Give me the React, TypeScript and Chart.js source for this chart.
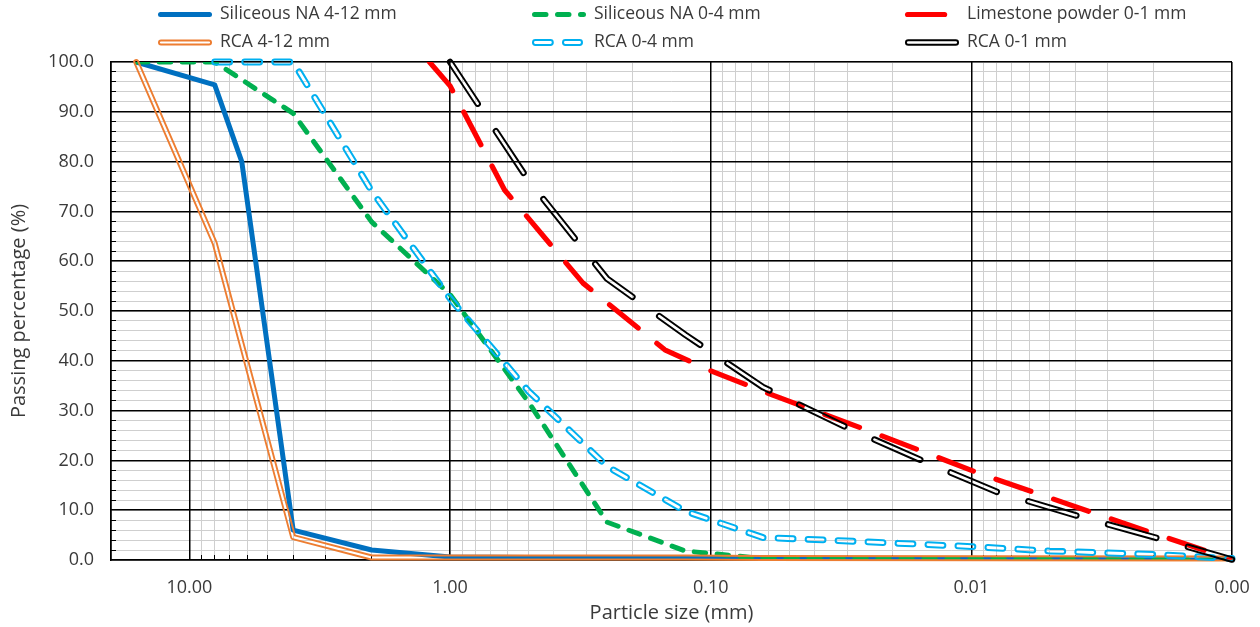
import React, { useEffect, useRef } from 'react';
import { Chart, registerables } from 'chart.js';

Chart.register(...registerables);

// ---------- data (particle size in mm, passing in %) ----------
const siliceousNA412Sizes = [16, 8, 6.3, 4, 2, 1, 0.5, 0.25, 0.125, 0.063, 0.001];
const siliceousNA412Passing = [100, 95.4, 80.0, 6.0, 2.0, 0.6, 0.5, 0.4, 0.4, 0.3, 0.0];

const siliceousNA04Sizes = [16, 8, 4, 2, 1, 0.5, 0.25, 0.125, 0.063, 0.001];
const siliceousNA04Passing = [100, 100, 89.7, 67.9, 53.3, 31.7, 7.6, 1.8, 0.3, 0.0];

const limestoneSizes = [1.2, 1.0, 0.618, 0.309, 0.15, 0.1, 0.0578, 0.0252, 0.00901, 0.00321, 0.00161, 0.001];
const limestonePassing = [100, 95.2, 74.3, 55.6, 42.2, 38.0, 33.1, 26.1, 17.1, 9.0, 3.7, 0.1];

const rca412Sizes = [16, 8, 4, 2, 1, 0.5, 0.25, 0.125, 0.063, 0.001];
const rca412Passing = [100, 63.6, 4.6, 0.5, 0.5, 0.5, 0.5, 0.5, 0.4, 0.3];

const rca04Sizes = [8, 4, 2, 1, 0.5, 0.25, 0.125, 0.063, 0.036, 0.01, 0.005, 0.002, 0.001];
const rca04Passing = [100, 100, 74.1, 52.5, 33.9, 18.8, 9.8, 4.5, 4.0, 2.7, 1.8, 1.1, 0.3];

const rca01Sizes = [1, 0.5, 0.25, 0.125, 0.063, 0.0306, 0.0158, 0.008, 0.004, 0.002, 0.001];
const rca01Passing = [100, 76.2, 56.5, 45.2, 34.7, 26.8, 20.2, 13.7, 9.0, 4.6, 0.1];

// axis ticks
const xDecadeTicks = [10, 1, 0.1, 0.01, 0.001];
const xMin = 0.001;
const xMax = 20;
const yTickLabels = [0, 10, 20, 30, 40, 50, 60, 70, 80, 90, 100];
const yMinorStep = 2;

// ---------- styles ----------
type Series = {
  label: string;
  sizes: number[];
  passing: number[];
  color: string;
  width: number;
  dash: number[];
  inner: number;
  order: number;
  legendLen: number;
};

const series: Series[] = [
  { label: 'Siliceous NA 4-12 mm', sizes: siliceousNA412Sizes, passing: siliceousNA412Passing, color: '#0070C0', width: 5, dash: [], inner: 0, order: 60, legendLen: 54 },
  { label: 'Siliceous NA 0-4 mm', sizes: siliceousNA04Sizes, passing: siliceousNA04Passing, color: '#00B050', width: 5, dash: [11.5, 11.5], inner: 0, order: 50, legendLen: 54 },
  { label: 'Limestone powder 0-1 mm', sizes: limestoneSizes, passing: limestonePassing, color: '#FF0000', width: 5.2, dash: [37, 24], inner: 0, order: 40, legendLen: 54 },
  { label: 'RCA 4-12 mm', sizes: rca412Sizes, passing: rca412Passing, color: '#ED7D31', width: 6, dash: [], inner: 2.2, order: 30, legendLen: 54 },
  { label: 'RCA 0-4 mm', sizes: rca04Sizes, passing: rca04Passing, color: '#00B0F0', width: 6.8, dash: [15, 15], inner: 2.8, order: 20, legendLen: 51 },
  { label: 'RCA 0-1 mm', sizes: rca01Sizes, passing: rca01Passing, color: '#000000', width: 6.5, dash: [50, 33], inner: 2.6, order: 10, legendLen: 54 },
];

const legendColX = [158, 532, 905];
const legendTextX = [220, 594, 967];
const legendRowY = [14.5, 42.5];

const FONT = '"Open Sans", "Noto Sans", sans-serif';
const TEXT_COLOR = '#3a3a3a';
const MINOR_GRID = '#cfcfcf';
const MAJOR_W = 1.5;

function isDecade(v: number) {
  const l = Math.log10(v);
  return Math.abs(l - Math.round(l)) < 1e-6;
}

function buildXTicks(): number[] {
  const out: number[] = [];
  for (const d of [0.001, 0.01, 0.1, 1]) {
    for (let k = 1; k <= 9; k++) out.push(Number((d * k).toPrecision(6)));
  }
  out.push(10, xMax);
  return out;
}
const xAllTicks = buildXTicks();

function alignPixel(chart: any, pixel: number, width: number) {
  const dpr = chart.currentDevicePixelRatio || 1;
  const half = Math.max(width / 2, 0.5);
  return Math.round((pixel - half) * dpr) / dpr + half;
}

// ---------- plugins ----------
const doubleLinePlugin = {
  id: 'doubleLine',
  beforeDatasetDraw(chart: any, args: any) {
    const ds = chart.data.datasets[args.index];
    if (ds._innerOf !== undefined) return false;
    if (ds._innerIndex === undefined) return;
    const innerMeta = chart.getDatasetMeta(ds._innerIndex);
    const off = document.createElement('canvas');
    off.width = chart.canvas.width;
    off.height = chart.canvas.height;
    const octx = off.getContext('2d') as CanvasRenderingContext2D;
    const dpr = chart.currentDevicePixelRatio || 1;
    octx.setTransform(dpr, 0, 0, dpr, 0, 0);
    args.meta.dataset.draw(octx, chart.chartArea);
    octx.globalCompositeOperation = 'destination-out';
    innerMeta.dataset.draw(octx, chart.chartArea);
    const ctx = chart.ctx as CanvasRenderingContext2D;
    const a = chart.chartArea;
    ctx.save();
    ctx.beginPath();
    ctx.rect(a.left - 4, a.top - 4, a.right - a.left + 8, a.bottom - a.top + 8);
    ctx.clip();
    ctx.setTransform(1, 0, 0, 1, 0, 0);
    ctx.drawImage(off, 0, 0);
    ctx.restore();
    return false;
  },
};

// major grid lines redrawn above the minor ones, plus inward minor tick marks
const gridOverlayPlugin = {
  id: 'gridOverlay',
  beforeDatasetsDraw(chart: any) {
    const { ctx, chartArea: a, scales } = chart;
    const x = scales.x;
    const y = scales.y;
    ctx.save();
    ctx.strokeStyle = '#000';
    ctx.lineWidth = MAJOR_W;
    ctx.beginPath();
    for (const v of xAllTicks) {
      if (!(isDecade(v) || v === xMax)) continue;
      const px = alignPixel(chart, x.getPixelForValue(v), MAJOR_W);
      ctx.moveTo(px, a.top);
      ctx.lineTo(px, a.bottom);
    }
    for (const v of yTickLabels) {
      const py = alignPixel(chart, y.getPixelForValue(v), MAJOR_W);
      ctx.moveTo(a.left, py);
      ctx.lineTo(a.right, py);
    }
    ctx.stroke();

    ctx.lineWidth = 1;
    ctx.beginPath();
    for (const v of xAllTicks) {
      if (isDecade(v) || v === xMax) continue;
      const px = alignPixel(chart, x.getPixelForValue(v), 1);
      ctx.moveTo(px, a.bottom);
      ctx.lineTo(px, a.bottom - 5);
    }
    for (let v = 0; v <= 100; v += yMinorStep) {
      if (v % 10 === 0) continue;
      const py = alignPixel(chart, y.getPixelForValue(v), 1);
      ctx.moveTo(a.left, py);
      ctx.lineTo(a.left + 5, py);
    }
    ctx.stroke();
    ctx.restore();
  },
};

const legendPlugin = {
  id: 'customLegend',
  afterDraw(chart: any) {
    const ctx = chart.ctx as CanvasRenderingContext2D;
    ctx.save();
    series.forEach((s, i) => {
      const col = i % 3;
      const row = Math.floor(i / 3);
      const x0 = legendColX[col];
      const y0 = legendRowY[row];
      const x1 = x0 + s.legendLen;
      ctx.lineCap = 'round';
      ctx.setLineDash(s.dash);
      ctx.lineDashOffset = 0;
      ctx.strokeStyle = s.color;
      ctx.lineWidth = s.width;
      const xs = x0 + s.width / 2;
      let xe = x1 - s.width / 2;
      if (s.label.startsWith('Limestone')) xe = x0 + 45 - s.width / 2;
      ctx.beginPath();
      ctx.moveTo(xs, y0);
      ctx.lineTo(xe, y0);
      ctx.stroke();
      if (s.inner > 0) {
        ctx.strokeStyle = '#ffffff';
        ctx.lineWidth = s.inner;
        ctx.beginPath();
        ctx.moveTo(xs, y0);
        ctx.lineTo(xe, y0);
        ctx.stroke();
      }
      ctx.setLineDash([]);
      ctx.fillStyle = TEXT_COLOR;
      ctx.font = `17.5px ${FONT}`;
      ctx.textBaseline = 'middle';
      ctx.textAlign = 'left';
      ctx.fillText(s.label, legendTextX[col], y0);
    });
    ctx.restore();
  },
};

export default function App() {
  const ref = useRef<HTMLCanvasElement>(null);

  useEffect(() => {
    if (!ref.current) return;
    const datasets: any[] = [];
    series.forEach((s) => {
      const data = s.sizes.map((sz, i) => ({ x: sz, y: s.passing[i] }));
      const outerIndex = datasets.length;
      datasets.push({
        label: s.label,
        data,
        borderColor: s.color,
        backgroundColor: s.color,
        borderWidth: s.width,
        borderDash: s.dash,
        borderCapStyle: 'round',
        borderJoinStyle: 'round',
        pointRadius: 0,
        pointHoverRadius: 0,
        tension: 0,
        fill: false,
        order: s.order,
      });
      if (s.inner > 0) {
        datasets[outerIndex]._innerIndex = outerIndex + 1;
        datasets.push({
          label: s.label + ' inner',
          data,
          borderColor: '#000',
          borderWidth: s.inner,
          borderDash: s.dash,
          borderCapStyle: 'round',
          borderJoinStyle: 'round',
          pointRadius: 0,
          pointHoverRadius: 0,
          tension: 0,
          fill: false,
          order: s.order - 1,
          _innerOf: outerIndex,
        });
      }
    });

    const chart = new Chart(ref.current, {
      type: 'line',
      data: { datasets },
      plugins: [doubleLinePlugin, gridOverlayPlugin, legendPlugin],
      options: {
        responsive: false,
        animation: false,
        events: [],
        layout: { padding: { top: 62, right: 28, left: 0, bottom: 0 } },
        plugins: {
          legend: { display: false },
          tooltip: { enabled: false },
          title: { display: false },
        },
        scales: {
          x: {
            type: 'logarithmic',
            reverse: true,
            min: xMin,
            max: xMax,
            afterBuildTicks: (scale: any) => {
              scale.ticks = xAllTicks.map((v) => ({ value: v, major: isDecade(v) }));
            },
            afterFit: (scale: any) => {
              scale.height = 67;
            },
            ticks: {
              autoSkip: false,
              maxRotation: 0,
              minRotation: 0,
              padding: 17,
              color: TEXT_COLOR,
              font: { family: FONT, size: 18 },
              callback: (value: any) => {
                const v = Number(value);
                return xDecadeTicks.some((d) => Math.abs(d - v) / d < 1e-6) ? v.toFixed(2) : '';
              },
            },
            grid: {
              drawTicks: false,
              color: MINOR_GRID,
              lineWidth: 1,
            },
            border: { display: true, color: '#000', width: MAJOR_W },
            title: {
              display: true,
              text: 'Particle size (mm)',
              color: TEXT_COLOR,
              font: { family: FONT, size: 20, lineHeight: 1.2 },
              padding: { top: 0, bottom: 2 },
            },
          },
          y: {
            type: 'linear',
            min: 0,
            max: 100,
            afterFit: (scale: any) => {
              scale.width = 111;
            },
            ticks: {
              stepSize: yMinorStep,
              autoSkip: false,
              padding: 17,
              color: TEXT_COLOR,
              font: { family: FONT, size: 18 },
              callback: (value: any) => {
                const v = Number(value);
                return yTickLabels.includes(v) ? v.toFixed(1) : '';
              },
            },
            grid: {
              drawTicks: false,
              color: MINOR_GRID,
              lineWidth: 1,
            },
            border: { display: true, color: '#000', width: MAJOR_W },
            title: {
              display: true,
              text: 'Passing percentage (%)',
              color: TEXT_COLOR,
              font: { family: FONT, size: 20, lineHeight: 1.2 },
              padding: { top: 7, bottom: 0 },
            },
          },
        },
      } as any,
    });
    return () => chart.destroy();
  }, []);

  return (
    <div style={{ position: 'absolute', left: 0, top: 0, width: 1260, height: 627, background: '#ffffff' }}>
      <canvas ref={ref} width={1260} height={627} style={{ display: 'block', width: 1260, height: 627 }} />
    </div>
  );
}
